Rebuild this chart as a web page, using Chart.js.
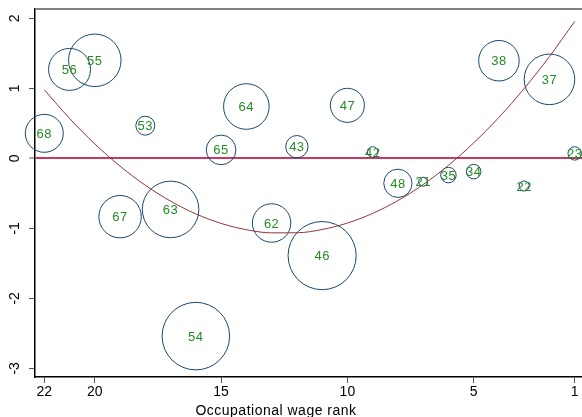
<!DOCTYPE html>
<html><head><meta charset="utf-8">
<script src="https://cdn.jsdelivr.net/npm/chart.js@4/dist/chart.umd.min.js"></script>
<style>html,body{margin:0;padding:0;background:#fff}#wrap{width:582px;height:417px}</style>
</head><body><div id="wrap"><canvas id="c" width="582" height="417"></canvas></div>
<script>
const ranks = [22,21,20,19,18,17,16,15,14,13,12,11,10,9,8,7,6,5,4,3,2,1];
const codes = ["68","56","55","67","53","63","54","65","64","62","43","46","47","42","48","21","35","34","38","22","37","23"];
const residuals = [0.357,1.27,1.40,-0.834,0.466,-0.73,-2.54,0.12,0.74,-0.924,0.166,-1.39,0.757,0.09,-0.357,-0.334,-0.24,-0.19,1.394,-0.396,1.128,0.07];
const weights = [3.61,4.41,6.9,4.5,0.9,8.0,11.4,2.2,5.2,3.7,1.25,11.6,2.9,0.28,2.0,0.2,0.6,0.53,4.1,0.25,6.4,0.45];
const fitValues = [0.979,0.570,0.206,-0.112,-0.385,-0.612,-0.794,-0.930,-1.020,-1.065,-1.064,-1.017,-0.925,-0.787,-0.604,-0.375,-0.101,0.220,0.585,0.997,1.453,1.956];
const xTicks = [22,20,15,10,5,1];
const yTicks = [-3,-2,-1,0,1,2];
const xTitle = "Occupational wage rank";

const FONT = '"Liberation Sans", Arial, sans-serif';
const bubbleData = ranks.map((x,i)=>({x:x, y:residuals[i], r:10*Math.sqrt(weights[i])}));
const fitData = ranks.map((x,i)=>({x:x, y:fitValues[i]}));

const deco = {
  id:'deco',
  afterDraw(chart){
    const ctx=chart.ctx, a=chart.chartArea, ys=chart.scales.y;
    ctx.save();
    ctx.strokeStyle='#808080'; ctx.lineWidth=2;
    ctx.beginPath(); ctx.moveTo(a.left, a.top); ctx.lineTo(a.right, a.top); ctx.stroke();
    ctx.fillStyle='#000'; ctx.font='14px '+FONT;
    ctx.textAlign='center'; ctx.textBaseline='middle';
    ys.ticks.forEach(t=>{
      const py=ys.getPixelForValue(t.value);
      ctx.save(); ctx.translate(a.left-20, py); ctx.rotate(-Math.PI/2);
      ctx.fillText(String(t.value),0,0); ctx.restore();
    });
    const meta=chart.getDatasetMeta(1);
    ctx.fillStyle='#238b23'; ctx.font='13px '+FONT;
    try{ctx.letterSpacing='0.5px';}catch(e){}
    meta.data.forEach((el,i)=>{ ctx.fillText(codes[i], el.x, el.y+1); });
    ctx.fillStyle='#000'; ctx.font='14px '+FONT; ctx.textBaseline='alphabetic';
    ctx.fillText(xTitle, 276, 415);
    ctx.restore();
  }
};

new Chart(document.getElementById('c'), {
  data:{
    datasets:[
      {type:'line', data:fitData, borderColor:'#90353b', borderWidth:1, pointRadius:0, cubicInterpolationMode:'monotone', fill:false, order:0},
      {type:'bubble', data:bubbleData, borderColor:'#1a476f', backgroundColor:'rgba(0,0,0,0)', borderWidth:1, clip:false, order:1}
    ]
  },
  options:{
    responsive:false, animation:false, devicePixelRatio:1,
    layout:{autoPadding:false, padding:{top:9,left:0,right:0,bottom:0}},
    plugins:{legend:{display:false}, tooltip:{enabled:false}},
    scales:{
      x:{type:'linear', position:'bottom', min:0.711, max:22.368, reverse:true,
        afterBuildTicks:s=>{s.ticks=xTicks.map(v=>({value:v}));},
        afterFit:s=>{s.height=40; s.paddingLeft=0; s.paddingRight=0;},
        ticks:{autoSkip:false, maxRotation:0, padding:1, color:'#000', font:{size:14, family:FONT}},
        grid:{display:true, drawOnChartArea:false, tickLength:6, tickColor:'#555', tickWidth:1},
        border:{color:'#000', width:1.5}
      },
      y:{type:'linear', position:'left', min:-3.124, max:2.133,
        afterBuildTicks:s=>{s.ticks=yTicks.map(v=>({value:v}));},
        afterFit:s=>{s.width=35; s.paddingTop=0; s.paddingBottom=0;},
        ticks:{display:false},
        grid:{display:true, drawOnChartArea:true, tickLength:6, tickColor:'#555', tickWidth:1,
          color:c=>(c.tick && c.tick.value===0)?'#c8385f':'rgba(0,0,0,0)',
          lineWidth:c=>(c.tick && c.tick.value===0)?2:1},
        border:{color:'#000', width:1.5}
      }
    }
  },
  plugins:[deco]
});
</script></body></html>
